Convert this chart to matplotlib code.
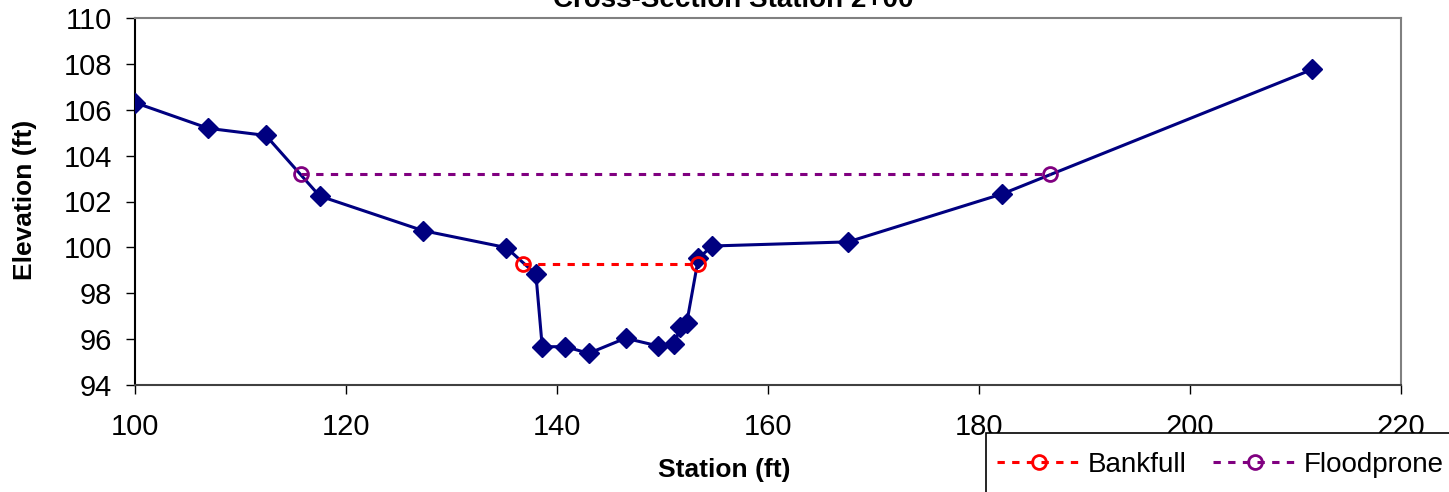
import matplotlib
matplotlib.use('Agg')
import matplotlib.pyplot as plt
from matplotlib.patches import Rectangle

plt.rcParams['font.family'] = ['Liberation Sans', 'DejaVu Sans']

# Surveyed cross-section points (station ft, elevation ft)
station = [100.0, 106.95, 112.4, 117.5, 127.3, 135.2, 138.0, 138.6, 140.8, 143.0,
           146.5, 149.6, 151.1, 151.7, 152.3, 153.4, 154.7, 167.6, 182.2, 211.6]
elevation = [106.31, 105.19, 104.88, 102.24, 100.73, 99.99, 98.83, 95.67, 95.67, 95.38,
             96.04, 95.70, 95.78, 96.52, 96.72, 99.52, 100.06, 100.24, 102.33, 107.76]

bankfull_x = [136.8, 153.4]
bankfull_y = [99.29, 99.29]
floodprone_x = [115.7, 186.7]
floodprone_y = [103.18, 103.18]

W, H = 1449, 492
fig = plt.figure(figsize=(W / 100, H / 100), dpi=100)
ax = fig.add_axes([135 / W, 1 - 385 / H, 1266 / W, 367 / H])

ax.plot(station, elevation, color='#000080', linewidth=2.2, marker='D',
        markersize=10.5, zorder=3)
ax.plot(bankfull_x, bankfull_y, color='#ff0000', linewidth=2.2, linestyle=(0, (2.4, 2.4)),
        marker='o', markersize=10, markerfacecolor='none', markeredgewidth=2,
        label='Bankfull', zorder=4)
ax.plot(floodprone_x, floodprone_y, color='#800080', linewidth=2.2, linestyle=(0, (2.4, 2.4)),
        marker='o', markersize=10, markerfacecolor='none', markeredgewidth=2,
        label='Floodprone', zorder=4)

ax.set_xlim(100, 220)
ax.set_ylim(94, 110)
ax.set_xticks(range(100, 221, 20))
ax.set_yticks(range(94, 111, 2))
ax.tick_params(axis='both', direction='out', length=6.5, width=1, labelsize=21, colors='black')
ax.tick_params(axis='y', pad=10)
ax.tick_params(axis='x', pad=14)

ax.spines['left'].set_color('black')
ax.spines['bottom'].set_color('#404040')
ax.spines['top'].set_color('#808080')
ax.spines['right'].set_color('#808080')
for s in ax.spines.values():
    s.set_linewidth(1.5)

fig.text(733 / W, 1 - 7 / H, 'Cross-Section Station 2+00', ha='center', va='baseline',
         fontsize=20, fontweight='bold')
fig.text(724 / W, 1 - 470 / H, 'Station (ft)', ha='center', va='center',
         fontsize=19, fontweight='bold')
fig.text(25 / W, 1 - 200 / H, 'Elevation (ft)', ha='center', va='center',
         rotation=90, fontsize=19, fontweight='bold')

# legend box runs off the right/bottom edge like the original
fig.patches.append(Rectangle((986 / W, -0.05), 0.4, 1 - 433 / H + 0.05,
                             transform=fig.transFigure, facecolor='white',
                             edgecolor='black', linewidth=1.2, zorder=5))
leg = fig.legend(loc='center left', bbox_to_anchor=(997 / W, 1 - 465 / H),
                 ncol=2, fontsize=20, handlelength=3, columnspacing=0.97,
                 handletextpad=0.25, borderpad=0, frameon=False, borderaxespad=0)
leg.set_zorder(6)

fig.savefig('out.png', dpi=100)
